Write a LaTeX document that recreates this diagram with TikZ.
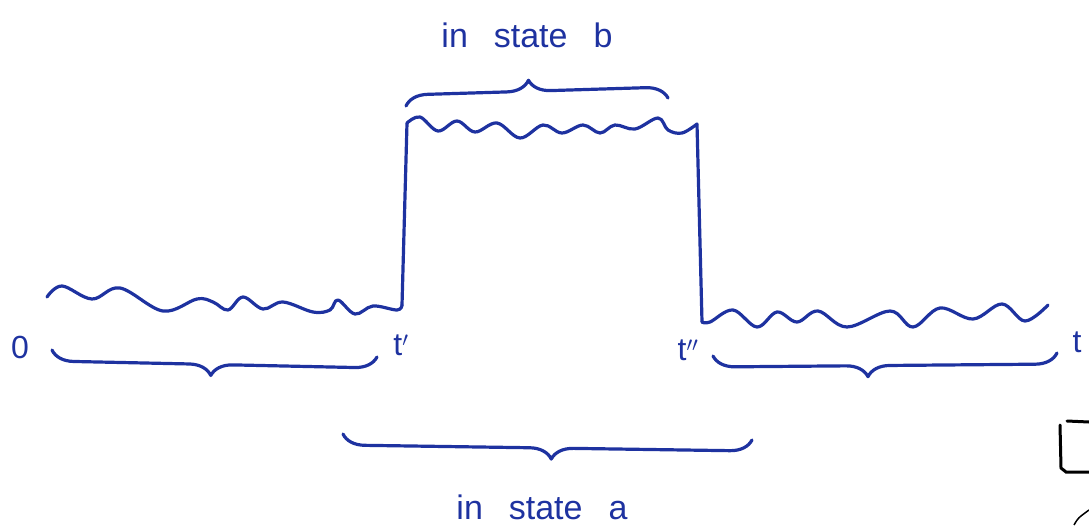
\documentclass[tikz,border=0pt]{standalone}
\usepackage{fontspec}
\setmainfont{Liberation Sans}
\usetikzlibrary{decorations.pathreplacing}
\definecolor{ink}{RGB}{30,50,160}
\tikzset{
  pen/.style={draw=ink, line width=3.2pt, line cap=round, line join=round},
  bracedown/.style={pen, decorate, decoration={brace, mirror, amplitude=22pt, aspect=#1}},
  braceup/.style={pen, decorate, decoration={brace, amplitude=22pt, aspect=#1}},
  lbl/.style={text=ink, font=\fontsize{32}{38}\selectfont, inner sep=0pt},
  big/.style={lbl, font=\fontsize{34}{40}\selectfont},
}
\begin{document}
\begin{tikzpicture}[x=1pt,y=-1pt]
\useasboundingbox (0,0) rectangle (1089,525);
% main path corners
\coordinate (l0) at (47,297);
\coordinate (c1) at (402,305);
\coordinate (c2) at (407,123);
\coordinate (c3) at (697,124);
\coordinate (c4) at (702,322);
\coordinate (r1) at (1048,305);
% left wave
\draw[pen] plot[smooth, tension=0.6] coordinates {(l0) (62,286) (92,299) (120,288) (163,311) (197,299) (213,302) (228,310) (243,297) (263,309) (283,302) (313,312) (330,310) (338,300) (355,314) (373,306) (397,310) (c1)};
% rising edge
\draw[pen] (c1) -- (c2);
% top wave
\draw[pen] plot[smooth, tension=0.6] coordinates {(c2) (420,117) (438,131) (457,121) (475,132) (497,123) (520,138) (543,125) (562,133) (583,125) (600,133) (615,125) (635,129) (658,118) (668,130) (682,133) (c3)};
% falling edge
\draw[pen] (c3) -- (c4);
% right wave
\draw[pen] plot[smooth, tension=0.6] coordinates {(c4) (710,322) (733,310) (757,327) (777,312) (797,322) (818,311) (847,327) (890,311) (913,327) (940,308) (973,319) (1002,304) (1025,321) (r1)};
% labels
\node[lbl] (zero) at (20,347) {0};
\node[lbl] (tp) at (401,345) {t$'$};
\node[lbl] (tpp) at (688,350) {t$''$};
\node[lbl] (tend) at (1077,342) {t};
\node[big] (sb) at (527,35) {in\hspace{26pt}state\hspace{26pt}b};
\node[big] (sa) at (542,507) {in\hspace{26pt}state\hspace{26pt}a};
% braces
\coordinate (b1s) at (52,350);
\coordinate (b1e) at (377,357);
\draw[bracedown=0.49] (b1s) -- (b1e);
\coordinate (b2s) at (713,356);
\coordinate (b2e) at (1057,353);
\draw[bracedown=0.45] (b2s) -- (b2e);
\coordinate (b3s) at (343,434);
\coordinate (b3e) at (752,440);
\draw[bracedown=0.51] (b3s) -- (b3e);
\coordinate (b4s) at (406,106);
\coordinate (b4e) at (668,98);
\draw[braceup=0.47] (b4s) -- (b4e);
% scan fragments at the right edge
\draw[line width=3pt, line cap=round] (1067,421) -- (1089,422);
\draw[line width=3pt, line cap=round] (1060,425) -- (1061,468) -- (1066,472) -- (1089,472);
\draw[line width=1.5pt] (1074,525) .. controls (1078,518) .. (1089,510);
\end{tikzpicture}
\end{document}
